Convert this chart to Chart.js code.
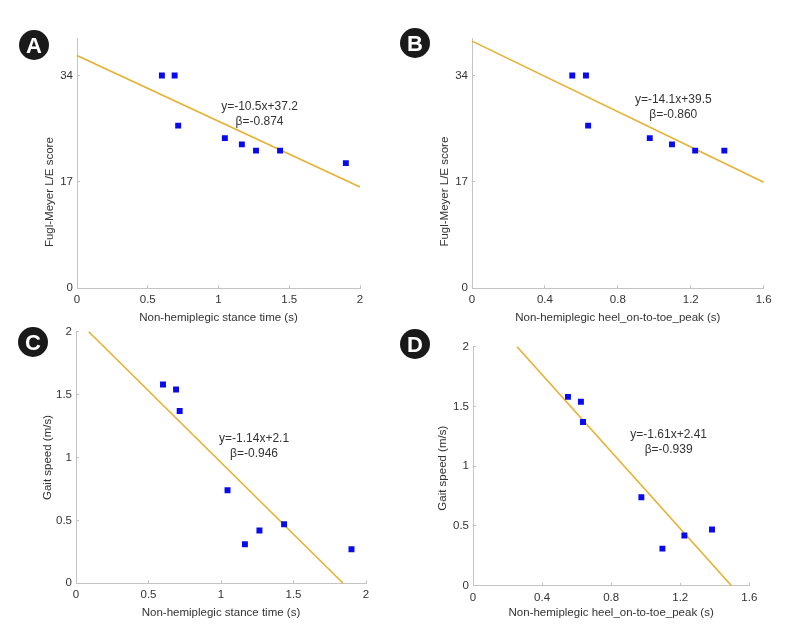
<!DOCTYPE html>
<html>
<head>
<meta charset="utf-8">
<script src="https://cdn.jsdelivr.net/npm/chart.js@4.4.1/dist/chart.umd.min.js"></script>
<style>
  html, body { margin: 0; padding: 0; background: #fff; }
  #page { position: relative; width: 794px; height: 631px; overflow: hidden; }
  #page canvas { position: absolute; left: 0; top: 0; }
  .tag {
    position: absolute; width: 30px; height: 30px; border-radius: 50%;
    background: #1a1a1a; color: #fff; text-align: center;
    font: bold 22px 'Liberation Sans', Arial, sans-serif; line-height: 31px;
  }
</style>
</head>
<body>
<div id="page">
  <canvas id="chartA" width="794" height="631"></canvas>
  <canvas id="chartB" width="794" height="631"></canvas>
  <canvas id="chartC" width="794" height="631"></canvas>
  <canvas id="chartD" width="794" height="631"></canvas>
  <div class="tag" style="left:19px;top:30px">A</div>
  <div class="tag" style="left:400px;top:28px">B</div>
  <div class="tag" style="left:18px;top:327px">C</div>
  <div class="tag" style="left:400px;top:329px">D</div>
</div>
<script>
/* ===== Data ===== */

// Non-hemiplegic stance time (s), 8 subjects (panels A, C)
const stanceTime = [0.60, 0.69, 0.715, 1.045, 1.165, 1.265, 1.435, 1.90];
const fmaStance  = [34, 34, 26, 24, 23, 22, 22, 20];
const gaitStance = [1.58, 1.54, 1.37, 0.74, 0.31, 0.42, 0.47, 0.27];

// Non-hemiplegic heel_on-to-toe_peak (s), 7 subjects (panels B, D)
const heelToe   = [0.55, 0.625, 0.637, 0.975, 1.097, 1.224, 1.384];
const fmaHeel   = [34, 34, 26, 24, 23, 22, 22];
const gaitHeel  = [1.58, 1.54, 1.37, 0.74, 0.31, 0.42, 0.47];

// Regression line end points
const fitAX = [0, 2],         fitAY = [37.2, 16.2];
const fitBX = [0, 1.6],       fitBY = [39.5, 16.94];
const fitCX = [0.088, 1.842], fitCY = [2, 0];
const fitDX = [0.255, 1.497], fitDY = [2, 0];

// Equation labels
const eqA = ['y=-10.5x+37.2', 'β=-0.874'];
const eqB = ['y=-14.1x+39.5', 'β=-0.860'];
const eqC = ['y=-1.14x+2.1', 'β=-0.946'];
const eqD = ['y=-1.61x+2.41', 'β=-0.939'];

// Tick labels
const ticksStance = [0, 0.5, 1, 1.5, 2];
const ticksHeel   = [0, 0.4, 0.8, 1.2, 1.6];
const ticksFma    = [0, 17, 34];
const ticksGait   = [0, 0.5, 1, 1.5, 2];

const xTitleStance = 'Non-hemiplegic stance time (s)';
const xTitleHeel   = 'Non-hemiplegic heel_on-to-toe_peak (s)';
const yTitleFma    = 'Fugl-Meyer L/E score';
const yTitleGait   = 'Gait speed (m/s)';

/* ===== Style ===== */
const FONT = "'Liberation Sans', Arial, sans-serif";
const TEXT = '#333333';
const AXIS = '#c4c4c4';
const MARK = '#0a0af0';
const FIT  = '#e6b030';
const Y_BOX = 40;   // width reserved for y tick labels
const X_BOX = 20;   // height reserved for x tick labels

const toPoints = (xs, ys) => xs.map((x, i) => ({ x: x, y: ys[i] }));

// Axis titles and equation text
const textPlugin = {
  id: 'panelText',
  afterDraw(chart, args, opts) {
    const ctx = chart.ctx;
    const a = chart.chartArea;
    ctx.save();
    ctx.fillStyle = TEXT;
    ctx.textAlign = 'center';
    ctx.textBaseline = 'middle';
    ctx.font = '11.5px ' + FONT;
    ctx.fillText(opts.xTitle, (a.left + a.right) / 2, a.bottom + opts.xTitleGap);

    ctx.save();
    ctx.translate(a.left - opts.yTitleGap, (a.top + a.bottom) / 2 + opts.yTitleShift);
    ctx.rotate(-Math.PI / 2);
    ctx.fillText(opts.yTitle, 0, 0);
    ctx.restore();

    ctx.font = '12px ' + FONT;
    const px = chart.scales.x.getPixelForValue(opts.eqAt[0]);
    const py = chart.scales.y.getPixelForValue(opts.eqAt[1]);
    opts.eq.forEach((line, i) => ctx.fillText(line, px, py + i * 15));
    ctx.restore();
  }
};

function axis(min, max, tickValues, pad, isX) {
  return {
    type: 'linear',
    min: min,
    max: max,
    afterBuildTicks: s => { s.ticks = tickValues.map(v => ({ value: v })); },
    afterFit: s => { if (isX) s.height = X_BOX; else s.width = Y_BOX; },
    border: { color: AXIS, width: 1 },
    grid: { drawOnChartArea: false, drawTicks: true, tickLength: -3, color: AXIS },
    ticks: {
      padding: pad,
      color: TEXT,
      font: { family: FONT, size: 11.5 },
      autoSkip: false,
      maxRotation: 0,
      callback: v => String(v)
    }
  };
}

function createPanel(id, area, cfg) {
  const ctx = document.getElementById(id).getContext('2d');
  new Chart(ctx, {
    type: 'scatter',
    data: {
      datasets: [
        {
          data: toPoints(cfg.xs, cfg.ys),
          pointStyle: 'rect',
          pointRadius: 4.2,
          pointBorderWidth: 0,
          backgroundColor: MARK,
          borderColor: MARK,
          order: 1
        },
        {
          data: toPoints(cfg.fitX, cfg.fitY),
          showLine: true,
          borderColor: FIT,
          borderWidth: 1.6,
          pointRadius: 0,
          clip: false,
          order: 2
        }
      ]
    },
    options: {
      responsive: false,
      animation: false,
      events: [],
      layout: {
        padding: {
          left: area[0] - Y_BOX,
          top: area[1],
          right: 794 - area[2],
          bottom: 631 - area[3] - X_BOX
        }
      },
      plugins: {
        legend: { display: false },
        tooltip: { enabled: false },
        panelText: cfg.text
      },
      scales: {
        x: axis(cfg.xRange[0], cfg.xRange[1], cfg.xTicks, 8, true),
        y: axis(cfg.yRange[0], cfg.yRange[1], cfg.yTicks, 7, false)
      }
    },
    plugins: [textPlugin]
  });
}

/* ===== Panels ===== */

createPanel('chartA', [77, 38, 360, 288.3], {
  xs: stanceTime, ys: fmaStance, fitX: fitAX, fitY: fitAY,
  xRange: [0, 2], yRange: [0, 40], xTicks: ticksStance, yTicks: ticksFma,
  text: { xTitle: xTitleStance, xTitleGap: 29.4, yTitle: yTitleFma, yTitleGap: 27, yTitleShift: 29,
          eq: eqA, eqAt: [1.29, 29.1] }
});

createPanel('chartB', [472, 38, 763.7, 288.3], {
  xs: heelToe, ys: fmaHeel, fitX: fitBX, fitY: fitBY,
  xRange: [0, 1.6], yRange: [0, 40], xTicks: ticksHeel, yTicks: ticksFma,
  text: { xTitle: xTitleHeel, xTitleGap: 29.4, yTitle: yTitleFma, yTitleGap: 26.7, yTitleShift: 28.5,
          eq: eqB, eqAt: [1.104, 30.1] }
});

createPanel('chartC', [76, 331.7, 366, 583.3], {
  xs: stanceTime, ys: gaitStance, fitX: fitCX, fitY: fitCY,
  xRange: [0, 2], yRange: [0, 2], xTicks: ticksStance, yTicks: ticksGait,
  text: { xTitle: xTitleStance, xTitleGap: 29.4, yTitle: yTitleGait, yTitleGap: 28.3, yTitleShift: 0,
          eq: eqC, eqAt: [1.228, 1.147] }
});

createPanel('chartD', [473, 346.7, 749.3, 585.7], {
  xs: heelToe, ys: gaitHeel, fitX: fitDX, fitY: fitDY,
  xRange: [0, 1.6], yRange: [0, 2], xTicks: ticksHeel, yTicks: ticksGait,
  text: { xTitle: xTitleHeel, xTitleGap: 27, yTitle: yTitleGait, yTitleGap: 30, yTitleShift: 2,
          eq: eqD, eqAt: [1.133, 1.261] }
});
</script>
</body>
</html>
